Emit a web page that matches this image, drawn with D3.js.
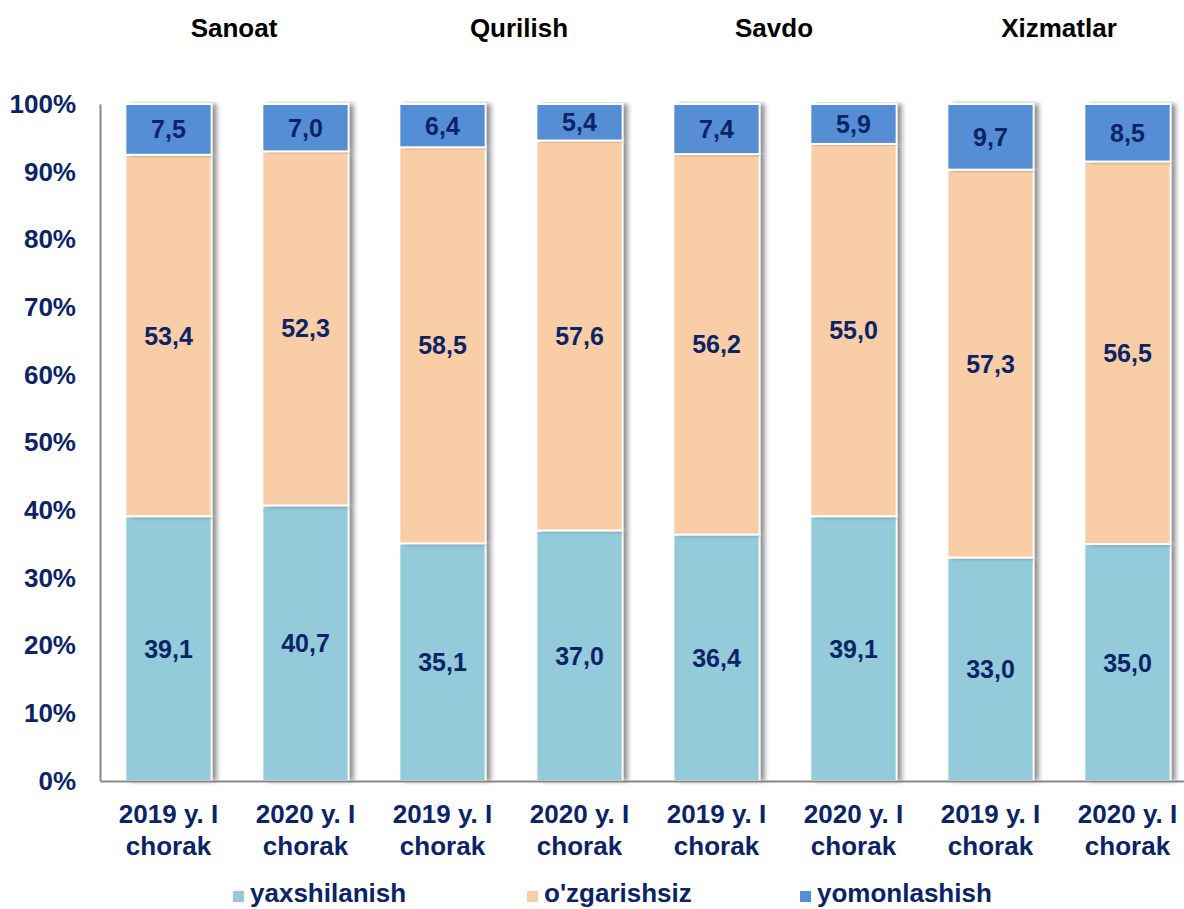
<!DOCTYPE html>
<html>
<head>
<meta charset="utf-8">
<script src="https://cdn.jsdelivr.net/npm/d3@7"></script>
<style>
  body { margin: 0; background: #fff; }
  svg { display: block; font-family: "Liberation Sans", Arial, sans-serif; font-weight: bold; }
</style>
</head>
<body>
<svg id="chart" width="1184" height="909"></svg>
<script>
var groups = ["Sanoat", "Qurilish", "Savdo", "Xizmatlar"];
var periodLine1 = ["2019 y. I", "2020 y. I"];
var periodLine2 = ["chorak", "chorak"];
var seriesNames = ["yaxshilanish", "o'zgarishsiz", "yomonlashish"];
var yaxshilanish = [39.1, 40.7, 35.1, 37.0, 36.4, 39.1, 33.0, 35.0];
var ozgarishsiz = [53.4, 52.3, 58.5, 57.6, 56.2, 55.0, 57.3, 56.5];
var yomonlashish = [7.5, 7.0, 6.4, 5.4, 7.4, 5.9, 9.7, 8.5];
var yTicks = [0, 10, 20, 30, 40, 50, 60, 70, 80, 90, 100];

var colors = ["#93cbdb", "#f9cda6", "#558ed5"];
var navy = "#0b2467";

var svg = d3.select("#chart"),
  margin = { top: 104, right: -12, bottom: 128, left: 100 },
  width = +svg.attr("width") - margin.left - margin.right,
  height = +svg.attr("height") - margin.top - margin.bottom;

var defs = svg.append("defs");
var f = defs.append("filter").attr("id", "shadow")
  .attr("x", "-10%").attr("y", "-5%").attr("width", "130%").attr("height", "110%");
f.append("feDropShadow").attr("dx", 5).attr("dy", 0).attr("stdDeviation", 2.5)
  .attr("flood-color", "#000").attr("flood-opacity", 0.45);

var g = svg.append("g")
  .attr("transform", "translate(" + margin.left + "," + margin.top + ")");

// one row per bar
var rows = [];
groups.forEach(function(gr, gi) {
  periodLine1.forEach(function(p, pi) {
    var i = gi * 2 + pi;
    rows.push({
      key: i, group: gr, line1: p, line2: periodLine2[pi],
      yaxshilanish: yaxshilanish[i],
      "o'zgarishsiz": ozgarishsiz[i],
      yomonlashish: yomonlashish[i]
    });
  });
});

var x = d3.scaleBand().domain(rows.map(function(d) { return d.key; }))
  .range([0, width]).paddingInner(0.37).paddingOuter(0.185);
var y = d3.scaleLinear().domain([0, 100]).range([height, 0]);

var stack = d3.stack().keys(seriesNames);
var stacked = stack(rows);

// bars
var layers = g.selectAll(".layer")
  .data(stacked)
  .enter()
  .append("g")
  .attr("class", "layer")
  .attr("fill", function(d, i) { return colors[i]; });

layers.selectAll("rect")
  .data(function(d) { return d; })
  .enter()
  .append("rect")
  .attr("x", function(d) { return x(d.data.key); })
  .attr("y", function(d) { return y(d[1]); })
  .attr("width", x.bandwidth())
  .attr("height", function(d) { return y(d[0]) - y(d[1]); })
  .attr("filter", "url(#shadow)");

layers.selectAll("rect.edge")
  .data(function(d) { return d; })
  .enter()
  .append("rect")
  .attr("class", "edge")
  .attr("x", function(d) { return x(d.data.key); })
  .attr("y", function(d) { return y(d[1]); })
  .attr("width", x.bandwidth())
  .attr("height", function(d) { return y(d[0]) - y(d[1]); })
  .attr("stroke", "#fff")
  .attr("stroke-width", 2);

// value labels
layers.selectAll("text")
  .data(function(d) { return d; })
  .enter()
  .append("text")
  .attr("x", function(d) { return x(d.data.key) + x.bandwidth() / 2; })
  .attr("y", function(d) { return (y(d[0]) + y(d[1])) / 2; })
  .attr("dy", "0.36em")
  .attr("text-anchor", "middle")
  .attr("fill", navy)
  .attr("font-size", 25)
  .text(function(d) { return (d[1] - d[0]).toFixed(1).replace(".", ","); });

// y axis
var yAxis = g.append("g")
  .call(d3.axisLeft(y).tickValues(yTicks).tickSize(0).tickPadding(24)
    .tickFormat(function(d) { return d + "%"; }));
yAxis.select(".domain").attr("stroke", "#888").attr("stroke-width", 2);
yAxis.selectAll("text").attr("fill", navy).attr("font-size", 26)
  .attr("font-family", "Liberation Sans, Arial, sans-serif").attr("font-weight", "bold");

// x axis
var xAxis = g.append("g")
  .attr("transform", "translate(0," + height + ")")
  .call(d3.axisBottom(x).tickSize(0).tickFormat(""));
xAxis.select(".domain").attr("stroke", "#888").attr("stroke-width", 2);

g.append("g").selectAll(".xlab")
  .data(rows)
  .enter()
  .append("text")
  .attr("class", "xlab")
  .attr("x", function(d) { return x(d.key) + x.bandwidth() / 2; })
  .attr("y", height + 42)
  .attr("text-anchor", "middle")
  .attr("fill", navy)
  .attr("font-size", 26)
  .each(function(d) {
    var t = d3.select(this);
    t.append("tspan").attr("x", x(d.key) + x.bandwidth() / 2).text(d.line1);
    t.append("tspan").attr("x", x(d.key) + x.bandwidth() / 2).attr("dy", 32).text(d.line2);
  });

// group titles
var titleOffset = [-3, 8, -11, 0];
svg.append("g").selectAll(".title")
  .data(groups)
  .enter()
  .append("text")
  .attr("x", function(d, i) {
    return margin.left + (x(i * 2) + x(i * 2 + 1) + x.bandwidth()) / 2 + titleOffset[i];
  })
  .attr("y", 37)
  .attr("text-anchor", "middle")
  .attr("fill", "#000")
  .attr("font-size", 26)
  .text(function(d) { return d; });

// legend
var legendX = [233, 527, 800];
var legend = svg.append("g").selectAll(".leg")
  .data(seriesNames)
  .enter()
  .append("g")
  .attr("transform", function(d, i) { return "translate(" + legendX[i] + ",893)"; });
legend.append("rect")
  .attr("x", 0).attr("y", -2).attr("width", 11).attr("height", 11)
  .attr("fill", function(d, i) { return colors[i]; });
legend.append("text")
  .attr("x", 17).attr("y", 0).attr("dy", "0.36em")
  .attr("fill", navy)
  .attr("font-size", 26)
  .text(function(d) { return d; });
</script>
</body>
</html>
